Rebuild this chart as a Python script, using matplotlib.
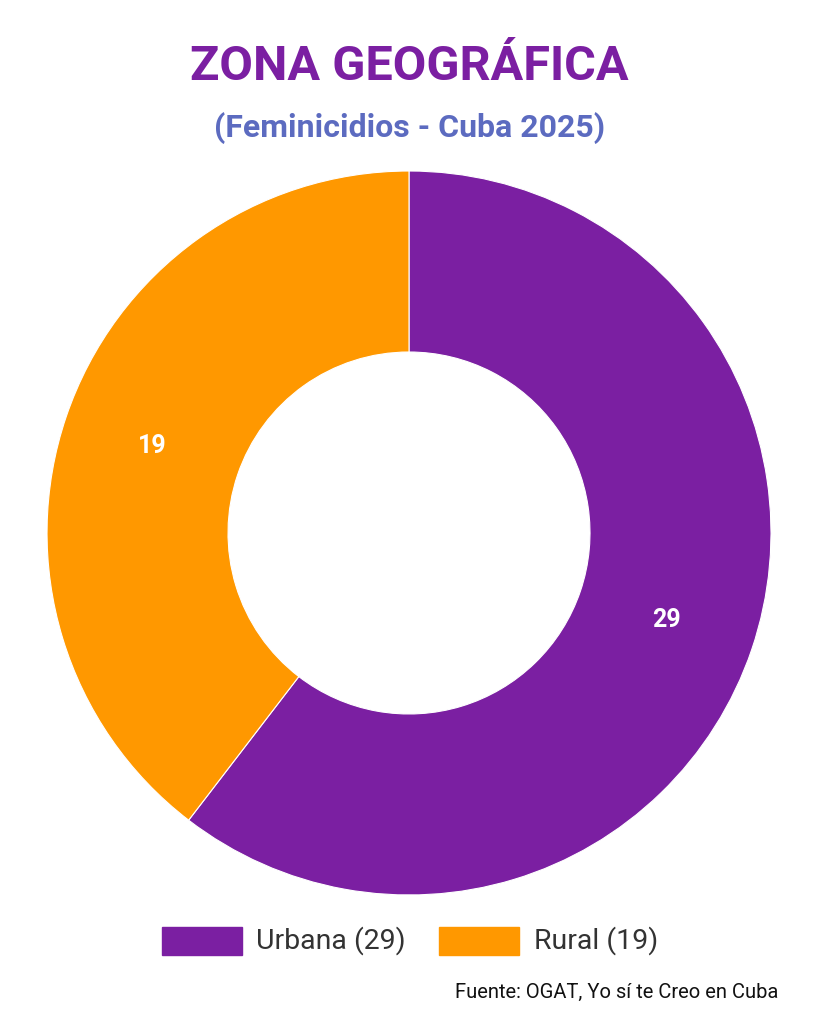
import matplotlib.pyplot as plt
from matplotlib.patches import Rectangle
import numpy as np

labels = ["Urbana", "Rural"]
values = [29, 19]
colors = ["#7B1FA2", "#FF9800"]

plt.rcParams['font.family'] = ['Roboto', 'DejaVu Sans']

fig = plt.figure(figsize=(8.19, 10.24), dpi=100)
ax = fig.add_axes([0.4994 - 0.442, 0.4795 - 0.3535, 0.884, 0.707])
wedges, _ = ax.pie(values, colors=colors, startangle=90, counterclock=False,
                   radius=1.0, wedgeprops=dict(width=0.5, edgecolor='white', linewidth=0.8))
total = sum(values)
ang = 90
for v in values:
    mid = np.deg2rad(ang - v / total * 180)
    ax.text(0.75 * np.cos(mid), 0.75 * np.sin(mid), str(v), color='white',
            fontsize=18, fontweight='bold', ha='center', va='center')
    ang -= v / total * 360
ax.set_xlim(-1, 1)
ax.set_ylim(-1, 1)
ax.set_aspect('equal')
ax.axis('off')

fig.text(0.5, 1 - 67 / 1024, "ZONA GEOGRÁFICA", color="#7B1FA2", fontsize=35,
         fontweight='bold', ha='center', va='center')
fig.text(0.5, 1 - 128 / 1024, "(Feminicidios - Cuba 2025)", color="#5C6BC0", fontsize=23,
         fontweight='bold', ha='center', va='center')

# legend
leg_y = 1 - 941 / 1024
for (x0, x1, tx), lab, v, c in zip([(162, 242, 256), (439, 519, 534)], labels, values, colors):
    fig.patches.append(Rectangle((x0 / 819, leg_y - 14 / 1024), (x1 - x0) / 819, 28 / 1024,
                                 transform=fig.transFigure, color=c))
    fig.text(tx / 819, leg_y, f"{lab} ({v})", fontsize=20.5, color="#333333",
             ha='left', va='center')

fig.text(778 / 819, 1 - 992 / 1024, "Fuente: OGAT, Yo sí te Creo en Cuba", fontsize=14.5,
         color="#111111", ha='right', va='center')

fig.savefig("out.png", dpi=100, facecolor='white')
